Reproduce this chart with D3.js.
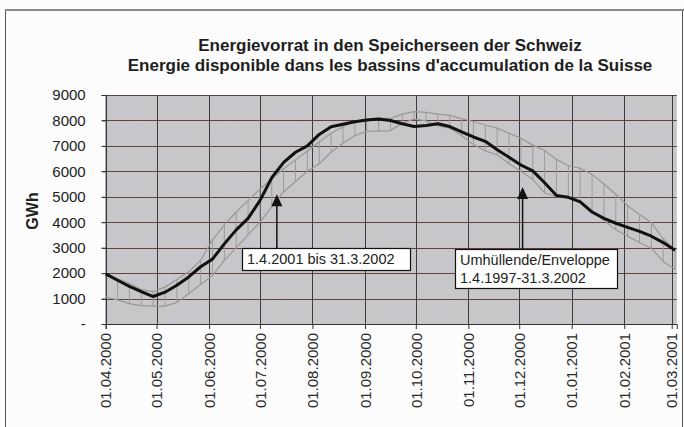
<!DOCTYPE html>
<html><head><meta charset="utf-8">
<script src="https://cdn.jsdelivr.net/npm/d3@7"></script>
<style>
body{margin:0;background:#fff}
svg{display:block;font-family:"Liberation Sans",Arial,sans-serif}
</style>
</head><body>
<svg id="c" width="684" height="427"></svg>
<script>
// ---- data ----
const titleLines = ["Energievorrat in den Speicherseen der Schweiz",
                    "Energie disponible dans les bassins d'accumulation de la Suisse"];
const yLabel = "GWh";
const dates = ["2000-04-01","2000-04-08","2000-04-15","2000-04-22","2000-04-29",
  "2000-05-06","2000-05-13","2000-05-20","2000-05-27",
  "2000-06-03","2000-06-10","2000-06-17","2000-06-24",
  "2000-07-01","2000-07-08","2000-07-15","2000-07-22","2000-07-29",
  "2000-08-05","2000-08-12","2000-08-19","2000-08-26",
  "2000-09-02","2000-09-09","2000-09-16","2000-09-23","2000-09-30",
  "2000-10-07","2000-10-14","2000-10-21","2000-10-28",
  "2000-11-04","2000-11-11","2000-11-18","2000-11-25",
  "2000-12-02","2000-12-09","2000-12-16","2000-12-23","2000-12-30",
  "2001-01-06","2001-01-13","2001-01-20","2001-01-27",
  "2001-02-03","2001-02-10","2001-02-17","2001-02-24","2001-03-03"];
const current = [1970,1720,1480,1270,1080,1250,1520,1850,2250,2550,3150,3700,4150,
  4850,5750,6350,6750,7000,7450,7750,7850,7950,8020,8060,8000,7870,7760,7800,7870,
  7760,7550,7350,7180,6850,6550,6250,6020,5550,5050,4980,4800,4400,4150,3960,3800,
  3640,3450,3200,2900];
const envMax = [1970,1780,1600,1350,1270,1450,1750,2050,2500,3300,3900,4400,4850,
  5300,5700,6100,6450,6800,7150,7500,7750,7950,8050,8080,8080,8250,8350,8320,8250,
  8200,8070,7960,7820,7700,7500,7300,7030,6820,6470,6220,6120,5880,5500,5100,4650,
  4300,3980,3350,2900];
const envMin = [1060,950,800,720,700,700,850,1200,1550,1900,2500,3000,3500,4000,
  4600,5200,5600,6000,6300,6750,7100,7400,7580,7580,7600,7900,8050,7980,7780,7700,
  7400,7050,6800,6650,6300,6000,5680,5150,5000,4950,4830,4450,4080,3700,3450,3200,
  2980,2450,2150];
const monthTicks = ["2000-04-01","2000-05-01","2000-06-01","2000-07-01","2000-08-01",
  "2000-09-01","2000-10-01","2000-11-01","2000-12-01","2001-01-01","2001-02-01","2001-03-01"];
const yTicks = [0,1000,2000,3000,4000,5000,6000,7000,8000,9000];
const annoCurrent = {date:"2000-07-11", value:5100, lines:["1.4.2001 bis 31.3.2002"]};
const annoEnvelope = {date:"2000-12-03", value:5380, lines:["Umhüllende/Enveloppe","1.4.1997-31.3.2002"]};

// ---- chart ----
const parse = d3.timeParse("%Y-%m-%d");
const svg = d3.select("#c");
const L = 105.7, R = 676.8, T = 95, B = 324;

const x = d3.scaleTime().domain([parse("2000-04-01"), parse("2001-03-04")]).range([L, R]);
const y = d3.scaleLinear().domain([0, 9000]).range([B, T]);

// outer frame
svg.append("rect").attr("x",0).attr("y",0).attr("width",684).attr("height",427).attr("fill","#fcfcfc");
svg.append("rect").attr("x",5.5).attr("y",10.5).attr("width",677).attr("height",420)
   .attr("fill","none").attr("stroke","#555").attr("stroke-width",1);
svg.append("line").attr("x1",5).attr("x2",684).attr("y1",10).attr("y2",10)
   .attr("stroke","#8a8a8a").attr("stroke-width",2);

// title
svg.append("g").selectAll("text").data(titleLines).join("text")
  .attr("x", 390).attr("y", (d,i)=> 51 + i*19.5)
  .attr("text-anchor","middle").attr("font-size",17).attr("font-weight","bold")
  .attr("fill","#1e1e1e").text(d=>d);

// plot background
const defs = svg.append("defs");
const f = defs.append("filter").attr("id","noise").attr("x",0).attr("y",0).attr("width","100%").attr("height","100%");
f.append("feTurbulence").attr("type","fractalNoise").attr("baseFrequency",0.9).attr("numOctaves",1).attr("seed",3).attr("result","t");
f.append("feColorMatrix").attr("in","t").attr("type","matrix")
  .attr("values","0 0 0 0 0.55  0 0 0 0 0.54  0 0 0 0 0.57  0 0 0 0.35 0").attr("result","n");
f.append("feComposite").attr("in","n").attr("in2","SourceGraphic").attr("operator","in");

svg.append("rect").attr("x",L).attr("y",T).attr("width",R-L).attr("height",B-T).attr("fill","#c8c7ca");
svg.append("rect").attr("x",L).attr("y",T).attr("width",R-L).attr("height",B-T).attr("fill","#c8c7ca").attr("filter","url(#noise)");

// gridlines
svg.append("g").selectAll("line").data(yTicks.filter(v=>v>0)).join("line")
  .attr("x1",L-4).attr("x2",R).attr("y1",d=>Math.round(y(d))+0.5).attr("y2",d=>Math.round(y(d))+0.5)
  .attr("stroke","#5e4440").attr("stroke-width",1);
const mt = monthTicks.map(parse);
svg.append("g").selectAll("line").data(mt).join("line")
  .attr("x1",d=>Math.round(x(d))+0.5).attr("x2",d=>Math.round(x(d))+0.5).attr("y1",T).attr("y2",B)
  .attr("stroke","#3c3c3c").attr("stroke-width",1);

// y axis
const yAxis = svg.append("g").attr("transform",`translate(${L},0)`)
  .call(d3.axisLeft(y).tickValues(yTicks).tickSize(4).tickPadding(16)
        .tickFormat(d => d===0 ? "-" : d3.format("d")(d)));
yAxis.select(".domain").attr("stroke","#333");
yAxis.selectAll(".tick line").attr("stroke","#333");
yAxis.selectAll("text").attr("font-size",15).attr("fill","#222")
  .attr("font-family",'"Liberation Sans",Arial,sans-serif');

// x axis
const xAxis = svg.append("g").attr("transform",`translate(0,${B})`)
  .call(d3.axisBottom(x).tickValues(mt).tickSize(5).tickFormat(d3.timeFormat("%d.%m.%Y")));
xAxis.select(".domain").attr("stroke","#333");
xAxis.selectAll(".tick line").attr("stroke","#333");
xAxis.selectAll("text").attr("font-size",15).attr("fill","#2a2a2a")
  .attr("font-family",'"Liberation Sans",Arial,sans-serif')
  .attr("text-anchor","end").attr("dy","0.35em")
  .attr("transform","translate(0,9) rotate(-90)").attr("x",0).attr("y",0);

// y label
svg.append("text").attr("transform","translate(38,211) rotate(-90)")
  .attr("text-anchor","middle").attr("font-size",16).attr("font-weight","bold")
  .attr("fill","#222").text(yLabel);

// data
const pts = dates.map((d,i)=>({d:parse(d), cur:current[i], hi:envMax[i], lo:envMin[i]}));
const plot = svg.append("g");
plot.selectAll("line.hatch").data(pts).join("line").attr("class","hatch")
  .attr("x1",p=>x(p.d)).attr("x2",p=>x(p.d)).attr("y1",p=>y(p.hi)).attr("y2",p=>y(p.lo))
  .attr("stroke","#9c9c9c").attr("stroke-width",1);
const envLine = k => d3.line().x(p=>x(p.d)).y(p=>y(p[k]));
plot.append("path").datum(pts).attr("d",envLine("hi")).attr("fill","none").attr("stroke","#989898").attr("stroke-width",1.2);
plot.append("path").datum(pts).attr("d",envLine("lo")).attr("fill","none").attr("stroke","#989898").attr("stroke-width",1.2);
plot.append("path").datum(pts).attr("d",envLine("cur")).attr("fill","none").attr("stroke","#111")
  .attr("stroke-width",3).attr("stroke-linejoin","round");

// annotations
function annotate(a, box) {
  const ax = x(parse(a.date)), ay = y(a.value);
  const g = svg.append("g");
  g.append("line").attr("x1",ax).attr("x2",ax).attr("y1",ay+10).attr("y2",box.y)
    .attr("stroke","#111").attr("stroke-width",1.5);
  g.append("path").attr("d",`M${ax},${ay} L${ax-5.5},${ay+12} L${ax+5.5},${ay+12} Z`).attr("fill","#111");
  g.append("rect").attr("x",box.x+0.5).attr("y",box.y+0.5).attr("width",box.w).attr("height",box.h)
    .attr("fill","#fff").attr("stroke","#111").attr("stroke-width",1.2);
  g.selectAll("text").data(a.lines).join("text")
    .attr("x",box.x+5).attr("y",(d,i)=>box.y+16+i*18)
    .attr("font-size",14.5).attr("fill","#222").text(d=>d);
}
annotate(annoCurrent, {x:242, y:248, w:168, h:22});
annotate(annoEnvelope, {x:455, y:249, w:162, h:39});
</script>
</body></html>
